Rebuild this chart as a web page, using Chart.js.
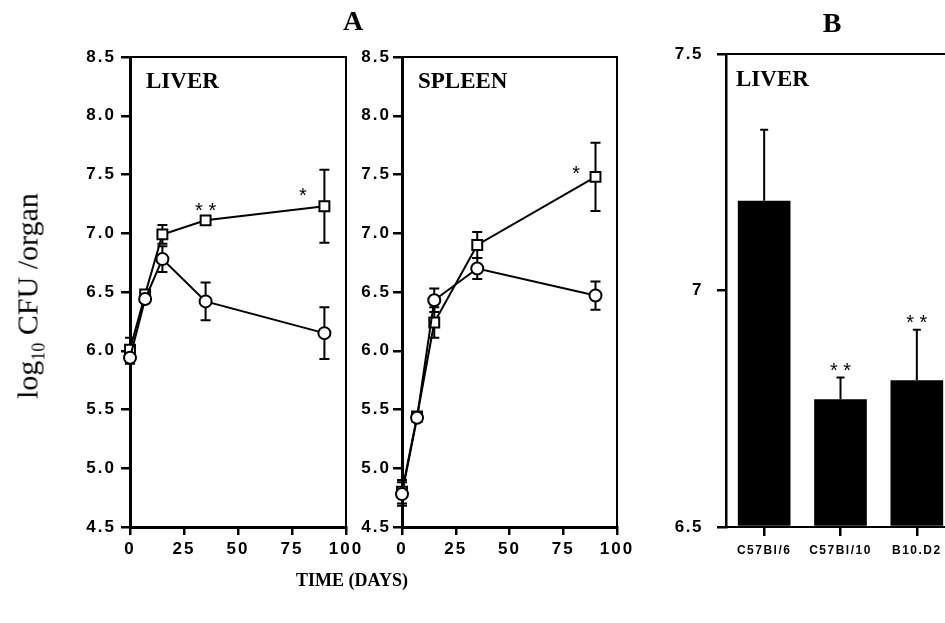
<!DOCTYPE html>
<html>
<head>
<meta charset="utf-8">
<script src="https://cdn.jsdelivr.net/npm/chart.js@4.4.1/dist/chart.umd.min.js"></script>
<style>
  html, body { margin: 0; padding: 0; width: 945px; height: 623px; overflow: hidden; background: #fff; }
  canvas { position: absolute; left: 0; top: 0; }
  .lbl { position: absolute; font-family: "Liberation Serif", "Times New Roman", serif; color: #000;
         white-space: nowrap; transform: translate(-50%, -50%); line-height: 1; }
  .lbl sub { font-size: 60%; }
</style>
</head>
<body>
<canvas id="liver" width="945" height="623"></canvas>
<canvas id="spleen" width="945" height="623"></canvas>
<canvas id="strains" width="970" height="623"></canvas>

<div class="lbl" style="left:353px; top:21px; font-size:28px; font-weight:bold;">A</div>
<div class="lbl" style="left:832px; top:23px; font-size:28px; font-weight:bold;">B</div>
<div class="lbl" style="left:352px; top:580px; font-size:18px; font-weight:bold;">TIME (DAYS)</div>
<div class="lbl" style="left:30px; top:296px; font-size:30px; transform:translate(-50%,-50%) rotate(-90deg);">log<sub>10</sub> CFU /organ</div>

<script>
// ---- data ----
const days = [0, 7, 15, 35, 90];

const liverSquare    = [6.01, 6.48, 6.99, 7.11, 7.23];
const liverSquareErr = [0.10, 0.03, 0.08, 0.03, 0.31];
const liverCircle    = [5.94, 6.44, 6.78, 6.42, 6.15];
const liverCircleErr = [0.05, 0.03, 0.11, 0.16, 0.22];

const spleenSquare    = [4.80, 5.44, 6.24, 6.90, 7.48];
const spleenSquareErr = [0.10, 0.03, 0.13, 0.11, 0.29];
const spleenCircle    = [4.78, 5.43, 6.43, 6.70, 6.47];
const spleenCircleErr = [0.10, 0.03, 0.10, 0.09, 0.12];

const strains    = ['C57Bl/6', 'C57Bl/10', 'B10.D2'];
const strainCFU  = [7.19, 6.77, 6.81];
const strainErr  = [0.15, 0.046, 0.107];

const dayTicks = [0, 25, 50, 75, 100];
const cfuTicks = [4.5, 5.0, 5.5, 6.0, 6.5, 7.0, 7.5, 8.0, 8.5];
const barTicks = [6.5, 7, 7.5];

// significance marks, anchored in data units
const liverStars  = [{ x: 35, y: 7.24, text: '* *' }, { x: 80, y: 7.37, text: '*' }];
const spleenStars = [{ x: 81, y: 7.555, text: '*' }];
const strainStars = [{ x: 1, y: 6.843, text: '* *' }, { x: 2, y: 6.945, text: '* *' }];

// ---- small plugins ----
const spacing = {
    id: 'spacing',
    beforeUpdate(chart, a, o) { chart.ctx.letterSpacing = o.px + 'px'; },
    beforeDraw(chart, a, o) { chart.ctx.letterSpacing = o.px + 'px'; }
};

// open frame on top and right side
const frame = {
    id: 'frame',
    afterDatasetsDraw(chart) {
        const { left, top, right, bottom } = chart.chartArea;
        const ctx = chart.ctx;
        ctx.save();
        ctx.strokeStyle = '#000';
        ctx.lineWidth = 2;
        ctx.beginPath();
        ctx.moveTo(left, top);
        ctx.lineTo(right, top);
        ctx.lineTo(right, bottom);
        ctx.stroke();
        ctx.restore();
    }
};

const errorBars = {
    id: 'errorBars',
    beforeDatasetsDraw(chart) {
        const ctx = chart.ctx;
        const ys = chart.scales.y;
        ctx.save();
        ctx.strokeStyle = '#000';
        ctx.lineWidth = 2;
        chart.data.datasets.forEach((ds, i) => {
            if (!ds.errorBars) return;
            const meta = chart.getDatasetMeta(i);
            meta.data.forEach((el, j) => {
                const raw = ds.data[j];
                const v = typeof raw === 'object' ? raw.y : raw;
                const e = ds.errorBars[j];
                const x = el.x;
                const yTop = ys.getPixelForValue(v + e);
                const yBot = ds.errorUpOnly ? ys.getPixelForValue(v) : ys.getPixelForValue(v - e);
                const cap = ds.capHalf || 5;
                ctx.beginPath();
                ctx.moveTo(x, yTop); ctx.lineTo(x, yBot);
                ctx.moveTo(x - cap, yTop); ctx.lineTo(x + cap, yTop);
                if (!ds.errorUpOnly) { ctx.moveTo(x - cap, yBot); ctx.lineTo(x + cap, yBot); }
                ctx.stroke();
            });
        });
        ctx.restore();
    }
};

const annotations = {
    id: 'annotations',
    afterDatasetsDraw(chart, a, o) {
        const ctx = chart.ctx;
        const { left, top } = chart.chartArea;
        ctx.save();
        ctx.fillStyle = '#000';
        ctx.letterSpacing = '0px';
        if (o.label) {
            ctx.font = 'bold 23px "Liberation Serif", "Times New Roman", serif';
            ctx.textAlign = 'left';
            ctx.textBaseline = 'middle';
            ctx.fillText(o.label, left + o.dx, top + o.dy);
        }
        ctx.font = '20px "Liberation Sans", Arial, sans-serif';
        ctx.textAlign = 'center';
        ctx.textBaseline = 'alphabetic';
        (o.stars || []).forEach(s => {
            const px = chart.scales.x.getPixelForValue(s.x);
            const py = chart.scales.y.getPixelForValue(s.y);
            ctx.fillText(s.text, px, py + 12);
        });
        ctx.restore();
    }
};

const tickFont = { family: '"Liberation Sans", Arial, sans-serif', size: 17, weight: 'bold' };

function pts(xs, ys) {
    return xs.map((x, i) => ({ x: x, y: ys[i] }));
}

function lineSet(values, errs, style) {
    return {
        data: pts(days, values),
        errorBars: errs,
        borderColor: '#000',
        borderWidth: 2,
        tension: 0,
        pointStyle: style,
        pointRadius: style === 'rect' ? 7 : 6,
        pointBorderWidth: 2,
        pointBorderColor: '#000',
        pointBackgroundColor: '#fff',
        clip: false
    };
}

function timeChart(id, circles, circleErr, squares, squareErr, left, right, labelPad, label, stars) {
    new Chart(document.getElementById(id), {
        type: 'line',
        data: {
            datasets: [
                lineSet(circles, circleErr, 'circle'),
                lineSet(squares, squareErr, 'rect')
            ]
        },
        options: {
            responsive: false,
            animation: false,
            events: [],
            layout: { padding: { left: left - 60, right: 945 - right, top: 57, bottom: 56 } },
            plugins: {
                legend: { display: false },
                tooltip: { enabled: false },
                spacing: { px: 2 },
                annotations: { label: label, dx: 16, dy: 25, stars: stars }
            },
            scales: {
                x: {
                    type: 'linear', min: 0, max: 100,
                    afterFit: s => { s.height = 40; },
                    afterBuildTicks: s => { s.ticks = dayTicks.map(v => ({ value: v })); },
                    border: { color: '#000', width: 3 },
                    grid: { drawOnChartArea: false, color: '#000', lineWidth: 2.5, tickLength: 8 },
                    ticks: { color: '#000', font: tickFont, padding: 4, maxRotation: 0 }
                },
                y: {
                    type: 'linear', min: 4.5, max: 8.5,
                    afterFit: s => { s.width = 60; },
                    afterBuildTicks: s => { s.ticks = cfuTicks.map(v => ({ value: v })); },
                    border: { color: '#000', width: 3 },
                    grid: { drawOnChartArea: false, color: '#000', lineWidth: 2.5, tickLength: 9 },
                    ticks: { color: '#000', font: tickFont, padding: labelPad, callback: v => v.toFixed(1) }
                }
            }
        },
        plugins: [spacing, errorBars, frame, annotations]
    });
}

timeChart('liver', liverCircle, liverCircleErr, liverSquare, liverSquareErr, 130, 346, 5, 'LIVER', liverStars);
timeChart('spleen', spleenCircle, spleenCircleErr, spleenSquare, spleenSquareErr, 402, 617, 2, 'SPLEEN', spleenStars);

// panel B: bar chart of strains
new Chart(document.getElementById('strains'), {
    type: 'bar',
    data: {
        labels: strains,
        datasets: [{
            data: strainCFU,
            errorBars: strainErr,
            errorUpOnly: true,
            capHalf: 4,
            base: 6.5,
            backgroundColor: '#000',
            borderWidth: 0,
            barPercentage: 0.69,
            categoryPercentage: 1
        }]
    },
    options: {
        responsive: false,
        animation: false,
        events: [],
        layout: { padding: { left: 726 - 60, right: 15, top: 54, bottom: 56 } },
        plugins: {
            legend: { display: false },
            tooltip: { enabled: false },
            spacing: { px: 1.5 },
            annotations: { label: 'LIVER', dx: 10, dy: 26, stars: strainStars }
        },
        scales: {
            x: {
                offset: true,
                afterFit: s => { s.height = 40; },
                border: { color: '#000', width: 2 },
                grid: { offset: false, drawOnChartArea: false, color: '#000', lineWidth: 2.5, tickLength: 9 },
                ticks: { color: '#000', font: { family: '"Liberation Sans", Arial, sans-serif', size: 12, weight: 'bold' }, padding: 7, maxRotation: 0, autoSkip: false }
            },
            y: {
                min: 6.5, max: 7.5,
                afterFit: s => { s.width = 60; },
                afterBuildTicks: s => { s.ticks = barTicks.map(v => ({ value: v })); },
                border: { color: '#000', width: 2.5 },
                grid: { drawOnChartArea: false, color: '#000', lineWidth: 2.5, tickLength: 9 },
                ticks: { color: '#000', font: tickFont, padding: 14, callback: v => String(v) }
            }
        }
    },
    plugins: [spacing, errorBars, frame, annotations]
});
</script>
</body>
</html>
